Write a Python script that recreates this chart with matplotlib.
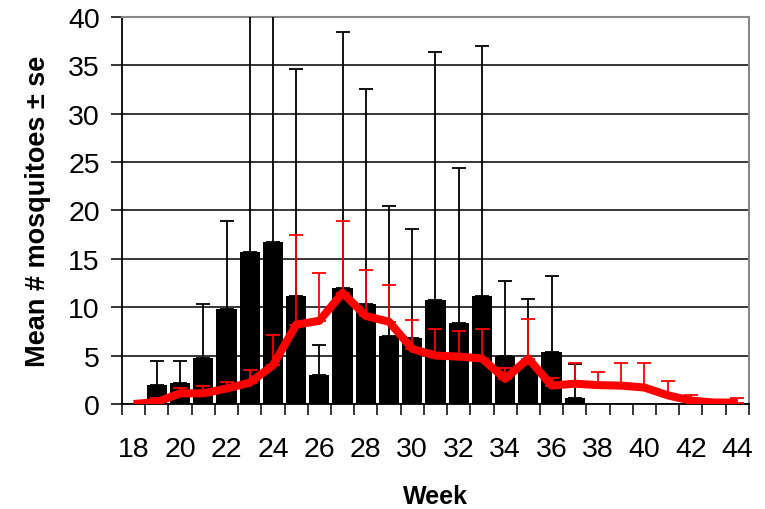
import numpy as np
import matplotlib
matplotlib.use("Agg")
import matplotlib.pyplot as plt

plt.rcParams['font.family'] = ['Liberation Sans', 'DejaVu Sans']

### Donnees
weeks = np.arange(18, 45)

# barres noires (moyenne) et erreur standard
bar_mean = [0, 2.0, 2.2, 4.8, 9.8, 15.7, 16.7, 11.2, 3.0, 12.0, 10.3, 7.0, 6.8, 10.8,
            8.4, 11.2, 5.0, 4.0, 5.4, 0.6, 0, 0, 0, 0, 0, 0, 0]
bar_se = [np.nan, 2.4, 2.2, 5.5, 9.1, 30, 30, 23.4, 3.1, 26.4, 22.3, 13.5, 11.3, 25.6,
          16.0, 25.8, 7.7, 6.9, 7.8, 3.5, np.nan, np.nan, np.nan, np.nan, np.nan, np.nan, np.nan]

# ligne rouge (moyenne) et erreur standard
line_mean = [0, 0.2, 1.1, 1.1, 1.6, 2.2, 4.0, 8.2, 8.6, 11.5, 9.1, 8.5, 5.7, 5.0,
             4.9, 4.7, 2.6, 4.7, 1.9, 2.1, 1.95, 1.9, 1.7, 0.9, 0.35, 0.15, 0.15]
line_se = [np.nan, 0.4, 0.6, 0.8, 0.7, 1.3, 3.1, 9.3, 4.9, 7.4, 4.8, 3.8, 3.0, 2.8,
           2.6, 3.1, 1.15, 4.05, 0.8, 2.1, 1.35, 2.3, 2.5, 1.5, 0.55, np.nan, 0.45]

yticks = np.arange(0, 41, 5)
xticklabels = np.arange(18, 45, 2)

bar_mean = np.array(bar_mean)
bar_se = np.array(bar_se)
line_mean = np.array(line_mean)
line_se = np.array(line_se)

### Figure
fig = plt.figure(figsize=(7.65, 5.10), dpi=100)
ax = fig.add_axes([0.1595, 0.2059, 0.8195, 0.7588])

ax.set_axisbelow(True)
ax.yaxis.grid(True, color='black', linewidth=1.1)

ax.bar(weeks, bar_mean, width=0.87, color='black', zorder=2)

m = ~np.isnan(bar_se)
ax.errorbar(weeks[m], bar_mean[m], yerr=[np.zeros(m.sum()), bar_se[m]], fmt='none',
            ecolor='black', elinewidth=1.3, capsize=5, capthick=1.3, zorder=3)

ax.plot(weeks, line_mean, color='red', linewidth=5.8, solid_joinstyle='round',
        solid_capstyle='butt', zorder=4)

m = ~np.isnan(line_se)
ax.errorbar(weeks[m], line_mean[m], yerr=[np.zeros(m.sum()), line_se[m]], fmt='none',
            ecolor='red', elinewidth=1.3, capsize=5, capthick=1.3, zorder=5)

ax.set_xlim(17.5, 44.5)
ax.set_ylim(0, 40)
ax.set_yticks(yticks)
ax.set_xticks(np.arange(17.5, 45, 1))
ax.set_xticklabels([])
ax.set_xticks(xticklabels, minor=True)
ax.set_xticklabels([str(w) for w in xticklabels], minor=True)
ax.tick_params(axis='x', which='minor', length=0, pad=23, labelsize=20.5)
ax.tick_params(axis='x', which='major', length=8, width=1.1, direction='out')
ax.tick_params(axis='y', length=8, width=1.1, labelsize=20.5, pad=8)

for s in ['left', 'bottom']:
    ax.spines[s].set_color('black')
    ax.spines[s].set_linewidth(1.3)
for s in ['top', 'right']:
    ax.spines[s].set_color('#888888')
    ax.spines[s].set_linewidth(1.5)

ax.set_xlabel('Week', fontsize=18, fontweight='bold', labelpad=16)
ax.set_ylabel('Mean # mosquitoes \u00b1 se', fontsize=19.5, fontweight='bold', labelpad=12)

fig.savefig('out.png', dpi=100)
